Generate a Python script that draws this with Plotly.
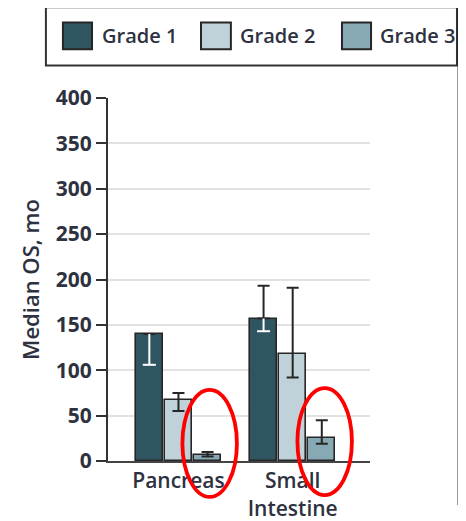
import plotly.graph_objects as go

categories = ["Pancreas", "Small Intestine"]
tick_labels = ["Pancreas", "Small<br>Intestine"]
series_names = ["Grade 1", "Grade 2", "Grade 3"]

grade1 = [140, 157]
grade1_plus = [0, 36]
grade1_minus = [34, 14]

grade2 = [67, 118]
grade2_plus = [8, 73]
grade2_minus = [12, 26]

grade3 = [7, 25]
grade3_plus = [3, 20]
grade3_minus = [2, 6]

y_ticks = [0, 50, 100, 150, 200, 250, 300, 350, 400]

colors = ["#2f5660", "#bfd2d9", "#86a9b4"]
edge = "#262626"
FONT = "Open Sans"
TXT = "#2e3240"

offsets = [-0.255, 0.0, 0.255]
bar_w = 0.236
cap_half = 0.057

values = [grade1, grade2, grade3]
plus = [grade1_plus, grade2_plus, grade3_plus]
minus = [grade1_minus, grade2_minus, grade3_minus]

fig = go.Figure()
for g in range(3):
    xs = [i + offsets[g] for i in range(len(categories))]
    fig.add_trace(go.Bar(
        x=xs, y=values[g], width=bar_w, name=series_names[g],
        marker=dict(color=colors[g], line=dict(color=edge, width=1.6)),
        error_y=dict(type="data", symmetric=False, array=plus[g],
                     arrayminus=([0] * len(categories) if g == 0 else minus[g]),
                     color=edge, thickness=2, width=6),
        showlegend=False,
    ))

# white lower whiskers inside the dark Grade 1 bars
wx, wy = [], []
for i in range(len(categories)):
    xc = i + offsets[0]
    lo = grade1[i] - grade1_minus[i]
    wx += [xc, xc, None, xc - cap_half, xc + cap_half, None]
    wy += [grade1[i], lo, None, lo, lo, None]
fig.add_trace(go.Scatter(x=wx, y=wy, mode="lines", line=dict(color="white", width=2),
                         showlegend=False, hoverinfo="skip"))

shapes = []
annotations = []
# legend box
shapes.append(dict(type="rect", xref="paper", yref="paper", x0=-0.237, x1=1.332,
                   y0=1.0897, y1=1.2497, line=dict(color="#333333", width=2),
                   fillcolor="white"))
sw_x = [(-0.172, -0.061), (0.355, 0.469), (0.893, 1.004)]
tx_x = [-0.031, 0.496, 1.031]
for g in range(3):
    shapes.append(dict(type="rect", xref="paper", yref="paper",
                       x0=sw_x[g][0], x1=sw_x[g][1], y0=1.134, y1=1.208,
                       fillcolor=colors[g], line=dict(color=edge, width=2)))
    annotations.append(dict(xref="paper", yref="paper", x=tx_x[g], y=1.171,
                            xanchor="left", yanchor="middle", showarrow=False,
                            text=series_names[g],
                            font=dict(family=FONT, size=20, color=TXT, weight=600)))
# red highlight ellipses
shapes.append(dict(type="circle", xref="paper", yref="paper", x0=0.284, x1=0.492,
                   y0=-0.099, y1=0.196, line=dict(color="#ff0000", width=3.8)))
shapes.append(dict(type="circle", xref="paper", yref="paper", x0=0.723, x1=0.931,
                   y0=-0.094, y1=0.201, line=dict(color="#ff0000", width=3.8)))
# dark crop edge at right
shapes.append(dict(type="line", xref="paper", yref="paper", x0=1.34, x1=1.34,
                   y0=-0.121, y1=1.3, line=dict(color="#151515", width=3)))

fig.update_layout(
    width=466, height=521,
    margin=dict(l=100, r=104, t=90, b=68, autoexpand=False),
    paper_bgcolor="white", plot_bgcolor="white",
    bargap=0, barmode="overlay",
    shapes=shapes, annotations=annotations,
    showlegend=False,
    font=dict(family=FONT, color=TXT),
)
fig.update_xaxes(
    range=[-0.617, 1.677], tickvals=list(range(len(categories))), ticktext=tick_labels,
    showgrid=False, zeroline=False, showline=True, linecolor="#444444", linewidth=2,
    ticks="", automargin=False,
    tickfont=dict(family=FONT, size=21, color=TXT, weight=600),
)
fig.update_yaxes(
    range=[0, 400], tickvals=y_ticks, showgrid=True, gridcolor="#e2e2e2", gridwidth=2,
    zeroline=False, showline=True, linecolor="#333333", linewidth=2,
    ticks="outside", ticklen=10, tickwidth=2, tickcolor="#333333", automargin=False,
    tickfont=dict(family=FONT, size=21, color=TXT, weight=700),
    title=dict(text="Median OS, mo", standoff=10,
               font=dict(family=FONT, size=22, color=TXT, weight=600)),
)
fig.write_html("out.html")
